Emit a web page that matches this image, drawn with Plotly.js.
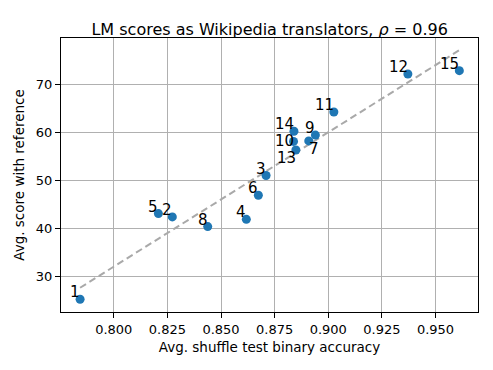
<!DOCTYPE html>
<html>
<head>
<meta charset="utf-8">
<script src="https://cdn.plot.ly/plotly-3.0.1.min.js"></script>
<style>
  html, body { margin: 0; padding: 0; background: #fff; }
  #plotDiv { width: 493px; height: 370px; }
</style>
</head>
<body>
<div id="plotDiv"></div>
<script>
let labels = ['1', '2', '3', '4', '5', '6', '7', '8', '9', '10', '11', '12', '13', '14', '15'];
let accuracy = [0.7843, 0.8273, 0.8710, 0.8618, 0.8208, 0.8674, 0.8909, 0.8438, 0.8940, 0.8838, 0.9026, 0.9371, 0.8849, 0.8840, 0.9611];
let score = [25.3, 42.4, 51.0, 41.9, 43.1, 46.9, 58.2, 40.4, 59.4, 58.1, 64.2, 72.1, 56.3, 60.2, 72.8];

// least squares fit for the trend line
let n = accuracy.length;
let mx = accuracy.reduce((a, b) => a + b, 0) / n;
let my = score.reduce((a, b) => a + b, 0) / n;
let sxy = 0, sxx = 0;
for (let i = 0; i < n; i++) {
  sxy += (accuracy[i] - mx) * (score[i] - my);
  sxx += (accuracy[i] - mx) ** 2;
}
let slope = sxy / sxx;
let icept = my - slope * mx;
let xFit = [Math.min(...accuracy), Math.max(...accuracy)];
let yFit = xFit.map((v) => icept + slope * v);

let font = 'DejaVu Sans, sans-serif';

// where each label sits relative to its point (default: up and to the left)
let labelPlace = {
  '7': ['left', 'top'],
  '10': ['right', 'middle'],
  '13': ['right', 'top'],
};

let annotations = labels.map((lab, i) => {
  let p = labelPlace[lab] || ['right', 'bottom'];
  return {
    x: accuracy[i],
    y: score[i],
    text: lab,
    showarrow: false,
    xanchor: p[0],
    yanchor: p[1],
    xshift: p[0] == 'left' ? -2 : 2,
    yshift: p[1] == 'bottom' ? -4 : p[1] == 'top' ? 3 : 0,
    font: { family: font, size: 15, color: '#000' },
  };
});

let fitLine = {
  x: xFit,
  y: yFit,
  mode: 'lines',
  type: 'scatter',
  line: { color: '#a9a9a9', width: 2, dash: '7px,4px' },
  hoverinfo: 'skip',
};

let points = {
  x: accuracy,
  y: score,
  mode: 'markers',
  type: 'scatter',
  marker: { color: '#1f77b4', size: 9 },
};

let axisCommon = {
  showline: true,
  linecolor: '#000',
  linewidth: 1,
  mirror: true,
  ticks: 'outside',
  ticklen: 5,
  tickcolor: '#000',
  showgrid: true,
  gridcolor: '#b0b0b0',
  gridwidth: 1,
  zeroline: false,
  tickfont: { family: font, size: 13, color: '#000' },
};

let layout = {
  width: 493,
  height: 370,
  margin: { l: 61, r: 15, t: 38, b: 58 },
  paper_bgcolor: '#fff',
  plot_bgcolor: '#fff',
  showlegend: false,
  title: {
    text: 'LM scores as Wikipedia translators, <i>ρ</i> = 0.96',
    font: { family: font, size: 16, color: '#000' },
    x: 0.547,
    xanchor: 'center',
    y: 0.935,
  },
  xaxis: Object.assign({}, axisCommon, {
    range: [0.7754, 0.9698],
    tickvals: [0.8, 0.825, 0.85, 0.875, 0.9, 0.925, 0.95],
    ticktext: ['0.800', '0.825', '0.850', '0.875', '0.900', '0.925', '0.950'],
    title: { text: 'Avg. shuffle test binary accuracy', font: { family: font, size: 13.5, color: '#000' }, standoff: 6 },
  }),
  yaxis: Object.assign({}, axisCommon, {
    range: [22.65, 79.58],
    tickvals: [30, 40, 50, 60, 70],
    title: { text: 'Avg. score with reference', font: { family: font, size: 13.5, color: '#000' }, standoff: 8 },
  }),
  annotations: annotations,
};

Plotly.newPlot('plotDiv', [fitLine, points], layout, { displayModeBar: false });
</script>
</body>
</html>
